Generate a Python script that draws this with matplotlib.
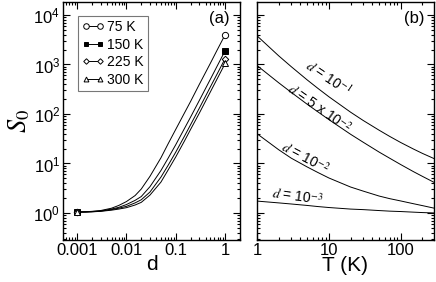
"""plot.py — S0 vs d (a) and S0 vs T (b)"""

import numpy as np
import matplotlib
matplotlib.use("Agg")
import matplotlib.pyplot as plt
from matplotlib.ticker import FixedLocator, LogLocator, NullFormatter
from matplotlib.lines import Line2D

plt.rcParams["font.family"] = ["Liberation Sans", "DejaVu Sans"]
plt.rcParams["mathtext.fontset"] = "custom"
plt.rcParams["mathtext.rm"] = "Liberation Sans"
plt.rcParams["mathtext.it"] = "Liberation Sans:italic"

# ── Data ────────────────────────────────────────────────────────────────────

d_vals = [0.001, 0.0015, 0.002, 0.003, 0.005, 0.007, 0.01, 0.015, 0.02, 0.03,
          0.05, 0.07, 0.1, 0.15, 0.2, 0.3, 0.5, 0.7, 1.0]
s0_75K = [1.05, 1.06, 1.08, 1.12, 1.25, 1.42, 1.7, 2.25, 3.05, 5.5,
          13, 25, 49, 105, 180, 397, 1050, 2020, 4000]
s0_150K = [1.05, 1.055, 1.07, 1.1, 1.2, 1.3, 1.48, 1.8, 2.15, 3.4,
           7.2, 12.8, 24, 51, 87, 188, 500, 958, 1900]
s0_225K = [1.04, 1.05, 1.06, 1.09, 1.17, 1.25, 1.36, 1.6, 1.85, 2.65,
           5.3, 9.2, 17, 35.6, 61, 131, 350, 665, 1320]
s0_300K = [1.04, 1.045, 1.055, 1.08, 1.14, 1.2, 1.28, 1.45, 1.64, 2.3,
           4.2, 7.4, 13.6, 28.5, 49, 104, 277, 529, 1050]
temp_labels = ["75 K", "150 K", "225 K", "300 K"]

T_vals = [1, 2, 3, 5, 7, 10, 20, 30, 50, 70, 100, 150, 200, 300]
s0_d1e1 = [3800, 1500, 902, 487, 331, 223, 109, 74, 47, 35.3, 26.5, 19.6, 16, 12.3]
s0_d5e2 = [955, 428, 273, 157, 111, 77, 39, 26.9, 17, 12.8, 9.5, 6.85, 5.5, 4.06]
s0_d1e2 = [40, 19, 12.8, 8.5, 6.6, 5.1, 3.35, 2.77, 2.2, 1.95, 1.75, 1.54, 1.41, 1.24]
s0_d1e3 = [1.74, 1.6, 1.52, 1.42, 1.35, 1.29, 1.2, 1.17, 1.12, 1.09, 1.07, 1.04, 1.02, 1.0]

d_labels = [r"$d$ = 10$^{-1}$", r"$d$ = 5 x 10$^{-2}$", r"$d$ = 10$^{-2}$", r"$d$ = 10$^{-3}$"]
label_pos = [(9.7, 520), (7.4, 128), (4.6, 12.9), (3.7, 2.1)]
label_rot = [-34, -35, -28, -8]

YLIM = (0.285, 18300)


def style_axes(ax):
    ax.set_xscale("log")
    ax.set_yscale("log")
    ax.set_ylim(*YLIM)
    ax.yaxis.set_major_locator(LogLocator(base=10, numticks=20))
    ax.yaxis.set_minor_locator(LogLocator(base=10, subs=np.arange(2, 10), numticks=100))
    ax.xaxis.set_minor_locator(LogLocator(base=10, subs=np.arange(2, 10), numticks=100))
    ax.xaxis.set_minor_formatter(NullFormatter())
    ax.yaxis.set_minor_formatter(NullFormatter())
    ax.tick_params(which="both", direction="in", top=True, right=True, width=0.8)
    ax.tick_params(which="major", length=5, labelsize=12, pad=2)
    ax.tick_params(which="minor", length=2.5)
    for sp in ax.spines.values():
        sp.set_linewidth(1.0)


def main():
    fig = plt.figure(figsize=(4.36, 2.82), dpi=100)
    ax1 = fig.add_axes([0.1445, 0.149, 0.406, 0.844])
    ax2 = fig.add_axes([0.5894, 0.149, 0.406, 0.844])

    # (a)
    style_axes(ax1)
    series = [s0_75K, s0_150K, s0_225K, s0_300K]
    markers = ["o", "s", "D", "^"]
    faces = ["white", "black", "white", "white"]
    sizes = [4.5, 4, 3.3, 4]
    handles = []
    for ys, m, fc, ms, lab in zip(series, markers, faces, sizes, temp_labels):
        ax1.plot(d_vals, ys, color="black", lw=0.7)
        ax1.plot([d_vals[0], d_vals[-1]], [ys[0], ys[-1]], ls="none", marker=m,
                 mfc=fc, mec="black", ms=ms, mew=0.7)
        handles.append(Line2D([], [], color="black", lw=0.7, marker=m, mfc=fc,
                              mec="black", ms=ms - 0.5, mew=0.7, label=lab))
    ax1.set_xlim(5.2e-4, 2.0)
    ax1.xaxis.set_major_locator(FixedLocator([0.001, 0.01, 0.1, 1]))
    ax1.set_xticklabels(["0.001", "0.01", "0.1", "1"])
    ax1.set_xlabel("d", fontsize=15, labelpad=-2)
    ax1.set_ylabel(r"$S_{\mathit{0}}$", fontsize=19, labelpad=1, math_fontfamily="stix")
    ax1.text(0.943, 0.96, "(a)", transform=ax1.transAxes, ha="right", va="top",
             fontsize=12)
    leg = ax1.legend(handles=handles, loc="upper left", bbox_to_anchor=(0.085, 0.941),
                     borderaxespad=0, fontsize=10, fancybox=False, framealpha=1,
                     edgecolor="#777777", handlelength=1.6, handletextpad=0.2,
                     labelspacing=0.25, borderpad=0.3, numpoints=2)
    leg.get_frame().set_linewidth(0.8)

    # (b)
    style_axes(ax2)
    for ys in [s0_d1e1, s0_d5e2, s0_d1e2, s0_d1e3]:
        ax2.plot(T_vals, ys, color="black", lw=0.7)
    for lab, (tx, ty), rot in zip(d_labels, label_pos, label_rot):
        ax2.text(tx, ty, lab, ha="center", va="center", rotation=rot,
                 rotation_mode="anchor", fontsize=10, math_fontfamily="stix")
    ax2.set_xlim(1, 290)
    ax2.xaxis.set_major_locator(FixedLocator([1, 10, 100]))
    ax2.set_xticklabels(["1", "10", "100"])
    ax2.set_yticklabels([])
    ax2.set_xlabel("T (K)", fontsize=15, labelpad=-1)
    ax2.text(0.949, 0.96, "(b)", transform=ax2.transAxes, ha="right", va="top",
             fontsize=12)

    fig.savefig("out.png", dpi=100)
    plt.close(fig)


if __name__ == "__main__":
    main()
